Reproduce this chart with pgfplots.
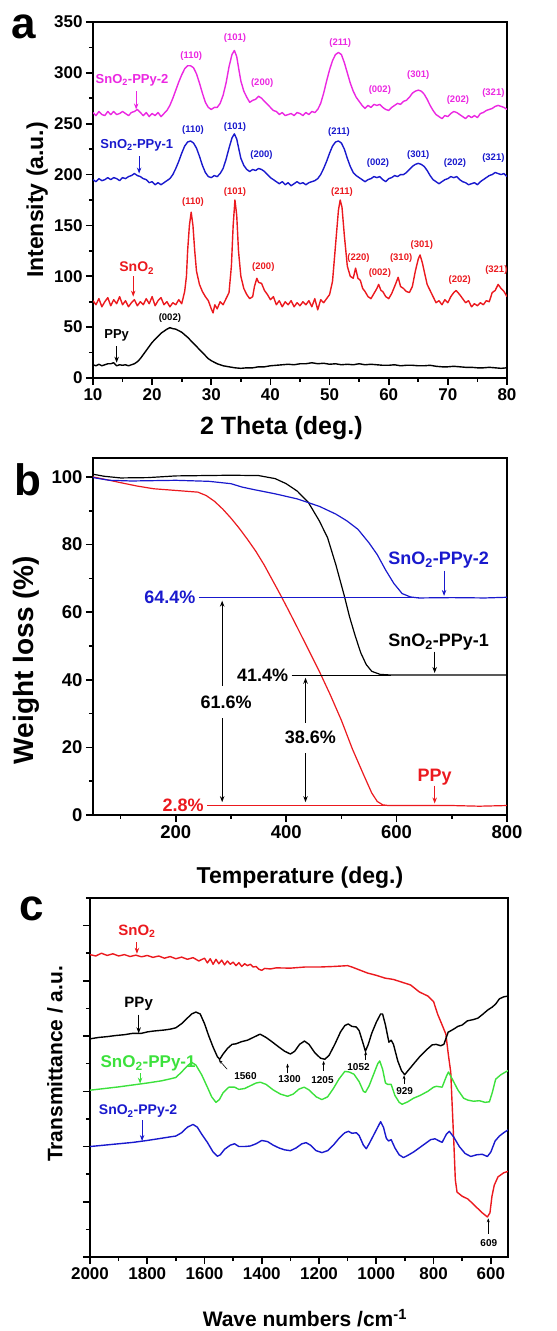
\documentclass[border=0pt]{standalone}
\usepackage{fontspec}
\setmainfont{Liberation Sans}
\usepackage{pgfplots}
\pgfplotsset{compat=1.18}
\usetikzlibrary{arrows.meta}
\definecolor{cmag}{RGB}{235,40,225}
\definecolor{cblue}{RGB}{25,25,205}
\definecolor{cred}{RGB}{235,25,30}
\definecolor{cgreen}{RGB}{60,225,60}
\newcommand{\fs}[1]{\bfseries\fontsize{#1}{#1}\selectfont}
\pgfplotsset{
  panel/.style={
    scale only axis, width=414pt, anchor=south west,
    tick align=outside, tick pos=left,
    major tick length=7pt, minor tick length=4pt,
    axis line style={line width=2pt},
    every tick/.style={black, line width=1.6pt},
    tick label style={font=\fs{17}},
    /pgf/number format/assume math mode=true,
    /pgf/number format/1000 sep={},
    label style={font=\fs{24}},
    clip mode=individual,
    every axis plot/.append style={line width=1.4pt, line join=round},
  },
}
\tikzset{arr/.style={-{Stealth[length=6pt,width=4.5pt]}, line width=0.9pt},
         sarr/.style={-{Stealth[length=4pt,width=3pt]}, line width=0.6pt}}
\begin{document}
\begin{tikzpicture}
\path[use as bounding box] (0pt,0pt) rectangle (557pt,1331pt);
% ---------------- panel a ----------------
\begin{axis}[panel, at={(93pt,953pt)}, height=356pt,
  xmin=10, xmax=80, ymin=0, ymax=350,
  xtick={10,20,...,80}, minor x tick num=1,
  ytick={0,50,...,350}, minor y tick num=1,
  xlabel={2 Theta (deg.)}, ylabel={Intensity (a.u.)},
  xlabel style={at={(axis description cs:0.455,-0.14)}, anchor=center, font=\fs{25}},
  ylabel style={at={(axis description cs:-0.135,0.5)}, anchor=center, font=\fs{23}},
]
\addplot[black] coordinates {(10,13)(10.5,12)(11,13.5)(11.5,12)(12,13)(12.5,14)(13,14)(13.5,15)(14,12)(14.5,13)(15,12.5)(15.5,13)(16,12)(16.5,13)(17,14)(17.5,16)(18,19)(18.5,23)(19,27)(19.5,31)(20,35)(20.5,38)(21,41)(21.5,44)(22,46)(22.5,48)(23,49.5)(23.5,48.5)(24,48)(24.5,46.5)(25,45)(25.5,42.5)(26,40)(26.5,37)(27,34)(27.5,31)(28,28)(28.5,25)(29,22)(29.5,19)(30,17)(31,14)(32,12)(33,11)(34,10)(35,9.5)(36,10)(37,10)(38,11)(39,11)(40,12)(41,12.5)(42,13)(43,13.5)(44,13)(45,14)(46,14)(47,15)(48,14)(49,14.5)(50,13.5)(51,14)(52,13)(53,13.5)(54,13)(55,14)(56,13)(57,13.5)(58,13)(59,12.5)(60,12.5)(61,13)(62,12)(63,12.5)(64,12.5)(65,12)(66,12)(67,12.5)(68,11.5)(69,11)(70,11)(71,11.5)(72,11)(73,10.5)(74,10.5)(75,10)(76,10)(77,10.5)(78,10)(79,9.5)(80,10)};
\addplot[cred] coordinates {(10,76)(10.5,72)(11,78)(11.5,70)(12,75)(12.5,79)(13,71)(13.5,77)(14,73)(14.5,80)(15,72)(15.5,76)(16,70)(16.5,74)(17,77)(17.5,71)(18,75)(18.5,72)(19,78)(19.5,73)(20,80)(20.5,71)(21,76)(21.5,79)(22,72)(22.5,75)(23,70)(23.5,74)(24,72)(24.5,77)(25,73)(25.5,85)(25.8,100)(26,125)(26.3,150)(26.6,163)(26.9,150)(27.2,125)(27.5,105)(28,92)(28.5,85)(29,80)(29.5,76)(30,68)(30.3,64)(30.6,72)(31,68)(31.5,75)(32,72)(32.5,78)(33,84)(33.4,110)(33.7,150)(34,175)(34.3,160)(34.6,125)(35,100)(35.5,88)(36,82)(36.5,78)(37,80)(37.3,90)(37.7,98)(38,94)(38.5,93)(39,86)(39.5,82)(40,77)(40.5,80)(41,72)(41.5,76)(42,70)(42.5,75)(43,72)(43.5,76)(44,70)(44.5,74)(45,71)(45.5,75)(46,72)(46.5,76)(47,70)(47.5,78)(48,67)(48.5,77)(49,74)(49.5,78)(50,82)(50.5,95)(51,130)(51.5,165)(51.8,175)(52.1,168)(52.5,140)(53,110)(53.5,100)(54,98)(54.4,108)(54.8,98)(55.2,96)(55.6,88)(56,85)(56.5,80)(57,78)(57.5,83)(58,88)(58.3,92)(58.7,86)(59,85)(59.5,80)(60,78)(60.5,83)(61,90)(61.6,99)(62,90)(62.5,88)(63,85)(63.5,84)(64,90)(64.5,105)(65,117)(65.3,121)(65.7,113)(66,105)(66.5,92)(67,86)(67.5,80)(68,74)(68.5,76)(69,72)(69.5,77)(70,74)(70.5,80)(71,84)(71.4,86)(72,82)(72.5,78)(73,74)(73.5,76)(74,70)(74.5,73)(75,71)(75.5,74)(76,72)(76.5,76)(77,75)(77.5,84)(78,86)(78.5,92)(79,88)(79.5,85)(80,80)};
\addplot[cblue] coordinates {(10,195)(10.5,193)(11,196)(11.5,194)(12,195)(12.5,197)(13,195)(13.5,197)(14,196)(14.5,194)(15,197)(15.5,196)(16,198)(16.5,199)(17,201)(17.5,199)(18,198)(18.5,196)(19,195)(19.5,192)(20,193)(20.5,190)(21,192)(21.5,190)(22,192)(22.5,194)(23,196)(23.5,200)(24,206)(24.5,213)(25,221)(25.5,228)(26,232)(26.5,233)(27,231)(27.5,226)(28,218)(28.5,209)(29,202)(29.5,198)(30,197)(30.5,199)(31,198)(31.5,201)(32,206)(32.5,215)(33,226)(33.5,236)(33.9,240)(34.3,235)(34.7,224)(35,216)(35.5,209)(36,205)(36.5,203)(37,205)(37.5,204)(38,206)(38.5,205)(39,203)(39.5,200)(40,197)(40.5,195)(41,193)(41.5,191)(42,193)(42.5,190)(43,192)(43.5,189)(44,191)(44.5,193)(45,191)(45.5,192)(46,190)(46.5,192)(47,193)(47.5,194)(48,196)(48.5,200)(49,206)(49.5,213)(50,221)(50.5,228)(51,232)(51.5,233)(52,231)(52.5,225)(53,216)(53.5,208)(54,202)(54.5,199)(55,197)(55.5,195)(56,193)(56.5,195)(57,196)(57.5,198)(58,197)(58.5,198)(59,195)(59.5,193)(60,196)(60.5,197)(61,199)(61.5,198)(62,200)(62.5,200)(63,202)(63.5,205)(64,208)(64.5,210)(65,211)(65.5,210)(66,208)(66.5,204)(67,199)(67.5,195)(68,193)(68.5,191)(69,193)(69.5,195)(70,196)(70.5,198)(71,197)(71.5,198)(72,195)(72.5,193)(73,192)(73.5,190)(74,191)(74.5,192)(75,190)(75.5,193)(76,195)(76.5,197)(77,199)(77.5,200)(78,202)(78.5,201)(79,200)(79.5,201)(80,198)};
\addplot[cmag] coordinates {(10,261)(10.5,258)(11,262)(11.5,259)(12,258)(12.5,262)(13,259)(13.5,262)(14,259)(14.5,260)(15,262)(15.5,260)(16,258)(16.5,261)(17,262)(17.5,264)(18,261)(18.5,258)(19,261)(19.5,257)(20,260)(20.5,258)(21,261)(21.5,257)(22,260)(22.5,263)(23,268)(23.5,275)(24,283)(24.5,291)(25,298)(25.5,304)(26,307)(26.5,307)(27,305)(27.5,299)(28,290)(28.5,280)(29,271)(29.5,266)(30,264)(30.5,266)(31,266)(31.5,270)(32,278)(32.5,290)(33,306)(33.5,318)(33.9,322)(34.3,316)(34.7,302)(35,292)(35.5,282)(36,276)(36.5,271)(37,273)(37.5,274)(38,277)(38.5,275)(39,272)(39.5,269)(40,266)(40.5,263)(41,262)(41.5,259)(42,261)(42.5,258)(43,259)(43.5,260)(44,258)(44.5,261)(45,260)(45.5,258)(46,261)(46.5,259)(47,262)(47.5,261)(48,264)(48.5,270)(49,280)(49.5,292)(50,303)(50.5,312)(51,318)(51.5,320)(52,318)(52.5,310)(53,300)(53.5,290)(54,282)(54.5,276)(55,272)(55.5,268)(56,265)(56.5,268)(57,266)(57.5,269)(58,268)(58.5,269)(59,266)(59.5,264)(60,263)(60.5,266)(61,268)(61.5,270)(62,269)(62.5,272)(63,273)(63.5,276)(64,280)(64.5,282)(65,283)(65.5,282)(66,279)(66.5,274)(67,268)(67.5,263)(68,259)(68.5,257)(69,255)(69.5,258)(70,257)(70.5,260)(71,262)(71.5,261)(72,259)(72.5,257)(73,255)(73.5,258)(74,256)(74.5,258)(75,256)(75.5,260)(76,261)(76.5,263)(77,264)(77.5,265)(78,267)(78.5,268)(79,267)(79.5,266)(80,264)};
% curve labels
\node[font=\fs{13}, text=cmag] at (axis cs:16.6,293) {SnO\textsubscript{2}-PPy-2};
\draw[arr, cmag] (axis cs:17.3,282) -- (axis cs:17.3,264);
\node[font=\fs{13}, text=cblue] at (axis cs:17.4,229) {SnO\textsubscript{2}-PPy-1};
\draw[arr, cblue] (axis cs:17.8,218) -- (axis cs:17.8,201);
\node[font=\fs{14}, text=cred] at (axis cs:17.4,108) {SnO\textsubscript{2}};
\draw[arr, cred] (axis cs:16.8,100) -- (axis cs:16.8,80);
\node[font=\fs{13}, text=black] at (axis cs:14,42) {PPy};
\draw[arr, black] (axis cs:14,31) -- (axis cs:14,15);
% peak labels
\begin{scope}[every node/.style={font=\fs{9.5}}]
\node[text=cmag] at (axis cs:26.6,317) {(110)};
\node[text=cmag] at (axis cs:34,334) {(101)};
\node[text=cmag] at (axis cs:38.6,290) {(200)};
\node[text=cmag] at (axis cs:51.8,329) {(211)};
\node[text=cmag] at (axis cs:58.5,283) {(002)};
\node[text=cmag] at (axis cs:65,298) {(301)};
\node[text=cmag] at (axis cs:71.7,273) {(202)};
\node[text=cmag] at (axis cs:77.7,280) {(321)};
\node[text=cblue] at (axis cs:26.9,244) {(110)};
\node[text=cblue] at (axis cs:34,247) {(101)};
\node[text=cblue] at (axis cs:38.5,219) {(200)};
\node[text=cblue] at (axis cs:51.6,242) {(211)};
\node[text=cblue] at (axis cs:58.2,211) {(002)};
\node[text=cblue] at (axis cs:65,219) {(301)};
\node[text=cblue] at (axis cs:71.2,211) {(202)};
\node[text=cblue] at (axis cs:77.7,216) {(321)};
\node[text=cred] at (axis cs:26.9,173) {(110)};
\node[text=cred] at (axis cs:34,183) {(101)};
\node[text=cred] at (axis cs:38.8,109) {(200)};
\node[text=cred] at (axis cs:52.1,183) {(211)};
\node[text=cred] at (axis cs:54.9,118) {(220)};
\node[text=cred] at (axis cs:58.5,103) {(002)};
\node[text=cred] at (axis cs:62.1,118) {(310)};
\node[text=cred] at (axis cs:65.6,131) {(301)};
\node[text=cred] at (axis cs:72,96) {(202)};
\node[text=cred] at (axis cs:78.2,106) {(321)};
\node[text=black] at (axis cs:23,59) {(002)};
\end{scope}
\end{axis}
\node[font=\fs{44}] at (24pt,1304pt) {a};
% ---------------- panel b ----------------
\begin{axis}[panel, at={(93pt,516pt)}, height=357pt,
  xmin=50, xmax=800, ymin=0, ymax=105.6,
  xtick={200,400,600,800}, minor xtick={100,300,500,700},
  ytick={0,20,...,100}, minor y tick num=1,
  tick label style={font=\fs{18.5}},
  xlabel={Temperature (deg.)}, ylabel={Weight loss (\%)},
  xlabel style={at={(axis description cs:0.5,-0.174)}, anchor=center, font=\fs{23}},
  ylabel style={at={(axis description cs:-0.16,0.434)}, anchor=center, font=\fs{28}},
  every axis plot/.append style={line width=1.2pt},
]
\addplot[cred] coordinates {(50,100)(80,99)(100,98.3)(130,97.3)(160,96.5)(200,96)(240,95.5)(255,94.5)(270,92.8)(285,90.5)(300,87.8)(315,84.8)(330,81.5)(345,78)(360,74)(375,69.5)(390,65)(405,60.3)(420,55.5)(440,49)(460,42.5)(480,35.5)(500,28)(520,19.5)(540,12)(555,6.5)(565,4)(575,3)(585,2.8)(700,2.8)(750,2.6)(800,2.8)};
\addplot[black] coordinates {(50,100.8)(70,100.2)(100,99.7)(150,99.8)(200,100.3)(300,100.5)(350,100.4)(380,99.5)(400,98)(420,95.8)(440,92.5)(460,87)(475,82)(490,74)(505,65)(515,58.5)(525,53)(535,48)(545,44.5)(555,42.5)(570,41.6)(590,41.4)(800,41.4)};
\addplot[cblue] coordinates {(50,99.8)(80,99)(120,98.8)(200,99)(260,98.7)(300,98)(320,97)(340,96.3)(380,95)(420,93.5)(460,91.3)(490,89)(510,87)(530,84.5)(550,80.5)(565,77)(580,72.5)(595,68.5)(610,65.5)(625,64.5)(640,64.2)(700,64.3)(760,64.2)(800,64.4)};
\addplot[cblue, line width=1pt] coordinates {(242,64.4)(640,64.4)};
\addplot[black, line width=1pt] coordinates {(410,41.4)(590,41.4)};
\addplot[cred, line width=1pt] coordinates {(257,2.8)(590,2.8)};
\node[font=\fs{18}, text=cblue, anchor=east] at (axis cs:242,64.4) {64.4\%};
\node[font=\fs{18}, text=black, anchor=east] at (axis cs:410,41.4) {41.4\%};
\node[font=\fs{18}, text=cred, anchor=east] at (axis cs:257,2.8) {2.8\%};
\node[font=\fs{18}] at (axis cs:291,33.4) {61.6\%};
\draw[arr, line width=1.1pt] (axis cs:284,38.3) -- (axis cs:284,63.4);
\draw[arr, line width=1.1pt] (axis cs:284,28.6) -- (axis cs:284,3.8);
\node[font=\fs{18}] at (axis cs:444,23) {38.6\%};
\draw[arr, line width=1.1pt] (axis cs:435,27.3) -- (axis cs:435,40.6);
\draw[arr, line width=1.1pt] (axis cs:435,18.3) -- (axis cs:435,3.8);
\node[font=\fs{18}, text=cblue] at (axis cs:676,75.4) {SnO\textsubscript{2}-PPy-2};
\draw[arr, cblue] (axis cs:686,72.3) -- (axis cs:686,64.8);
\node[font=\fs{18}, text=black] at (axis cs:676,51) {SnO\textsubscript{2}-PPy-1};
\draw[arr, black] (axis cs:669,48.3) -- (axis cs:669,42);
\node[font=\fs{18}, text=cred] at (axis cs:669,11.2) {PPy};
\draw[arr, cred] (axis cs:669,8.7) -- (axis cs:669,3.4);
\end{axis}
\node[font=\fs{44}] at (28pt,851pt) {b};
% ---------------- panel c ----------------
\begin{axis}[panel, at={(90pt,74pt)}, width=418pt, height=359pt,
  x dir=reverse, xmin=540, xmax=2000, ymin=0, ymax=13,
  xtick={600,800,...,2000}, minor xtick={700,900,...,1900},
  ytick={0,2,...,12}, minor ytick={1,3,...,13}, yticklabels={},
  xlabel={Wave numbers /cm\textsuperscript{-1}}, ylabel={Transmittance / a.u.},
  xlabel style={at={(axis description cs:0.514,-0.17)}, anchor=center, font=\fs{21}},
  ylabel style={at={(axis description cs:-0.084,0.538)}, anchor=center, font=\fs{21}},
]
\addplot[cred] coordinates {(2000,10.95)(1980,10.9)(1960,11.0)(1940,10.92)(1920,10.98)(1900,10.9)(1880,10.95)(1860,10.88)(1840,10.93)(1820,10.87)(1800,10.92)(1780,10.85)(1760,10.9)(1740,10.82)(1720,10.88)(1700,10.8)(1680,10.86)(1660,10.78)(1640,10.84)(1620,10.72)(1600,10.82)(1590,10.65)(1580,10.8)(1570,10.6)(1560,10.78)(1550,10.62)(1540,10.75)(1530,10.58)(1520,10.72)(1510,10.6)(1500,10.68)(1490,10.55)(1480,10.66)(1470,10.52)(1460,10.62)(1450,10.55)(1440,10.6)(1430,10.5)(1420,10.52)(1410,10.42)(1400,10.38)(1390,10.45)(1370,10.43)(1350,10.47)(1300,10.46)(1250,10.5)(1200,10.5)(1150,10.52)(1100,10.55)(1085,10.5)(1060,10.4)(1030,10.28)(1000,10.2)(970,10.1)(940,10.05)(910,9.95)(880,9.85)(850,9.6)(820,9.45)(800,9.25)(786,8.8)(770,8.4)(757,8.07)(748,7.3)(740,6.7)(735,5.5)(729,4.1)(724,2.8)(718,2.35)(700,2.2)(680,2.1)(655,1.85)(630,1.6)(612,1.45)(603,1.6)(596,2.2)(588,2.6)(575,2.9)(555,3.05)(540,3.1)};
\addplot[black] coordinates {(2000,7.9)(1970,7.95)(1940,7.98)(1910,8.02)(1880,8.05)(1850,8.1)(1820,8.1)(1800,8.15)(1780,8.18)(1760,8.2)(1740,8.22)(1720,8.25)(1700,8.3)(1680,8.45)(1660,8.65)(1645,8.8)(1630,8.87)(1615,8.8)(1600,8.45)(1585,8.0)(1570,7.6)(1555,7.25)(1547,7.16)(1535,7.35)(1520,7.55)(1504,7.7)(1490,7.72)(1470,7.8)(1450,7.85)(1430,7.95)(1406,8.07)(1385,7.95)(1365,7.8)(1340,7.6)(1320,7.45)(1300,7.35)(1285,7.45)(1268,7.7)(1251,7.82)(1235,7.7)(1215,7.4)(1195,7.2)(1180,7.16)(1165,7.3)(1145,7.7)(1125,8.15)(1110,8.38)(1098,8.44)(1085,8.35)(1070,8.33)(1060,8.2)(1048,7.8)(1038,7.45)(1028,7.7)(1016,8.1)(1000,8.5)(985,8.8)(978,8.8)(968,8.4)(956,7.78)(948,7.85)(940,7.7)(925,7.1)(912,6.75)(901,6.6)(885,6.8)(865,7.05)(847,7.27)(825,7.5)(805,7.68)(791,7.7)(775,7.65)(764,7.7)(749,8.14)(730,8.25)(715,8.35)(700,8.4)(682,8.55)(660,8.6)(645,8.65)(627,8.8)(610,8.95)(595,9.05)(583,9.16)(570,9.35)(555,9.42)(540,9.45)};
\addplot[cgreen] coordinates {(2000,6.04)(1950,6.1)(1900,6.16)(1850,6.23)(1800,6.3)(1750,6.38)(1720,6.45)(1700,6.5)(1680,6.7)(1660,6.92)(1645,7.05)(1630,6.95)(1610,6.6)(1590,6.15)(1575,5.8)(1560,5.6)(1548,5.7)(1535,5.95)(1515,6.15)(1495,6.15)(1480,6.07)(1460,6.1)(1440,6.2)(1420,6.3)(1405,6.33)(1385,6.25)(1360,6.05)(1335,5.9)(1310,5.82)(1290,5.9)(1270,6.08)(1252,6.15)(1235,6.05)(1210,5.8)(1190,5.7)(1170,5.8)(1150,6.1)(1130,6.45)(1110,6.72)(1095,6.7)(1078,6.62)(1060,6.35)(1045,6.0)(1038,5.96)(1025,6.2)(1010,6.6)(995,7.0)(988,7.1)(978,6.8)(968,6.3)(960,6.25)(948,6.25)(935,5.85)(920,5.6)(910,5.53)(890,5.62)(870,5.75)(847,5.85)(820,6.0)(800,6.15)(790,6.18)(770,6.15)(755,6.55)(748,6.7)(735,6.45)(715,6.05)(695,5.75)(680,5.68)(660,5.64)(640,5.66)(620,5.6)(605,5.62)(595,5.95)(583,6.44)(565,6.6)(540,6.75)};
\addplot[cblue] coordinates {(2000,4.0)(1950,4.05)(1900,4.1)(1850,4.15)(1800,4.22)(1750,4.3)(1720,4.35)(1700,4.38)(1680,4.5)(1660,4.7)(1640,4.8)(1625,4.7)(1610,4.45)(1590,4.15)(1570,3.8)(1555,3.65)(1545,3.7)(1530,3.9)(1510,4.05)(1495,4.1)(1480,4.0)(1460,4.0)(1440,4.02)(1420,4.1)(1400,4.22)(1380,4.18)(1360,4.05)(1340,3.95)(1320,3.88)(1300,3.85)(1280,3.95)(1260,4.1)(1245,4.14)(1230,4.05)(1210,3.85)(1190,3.78)(1170,3.85)(1150,4.05)(1130,4.3)(1110,4.5)(1097,4.55)(1085,4.48)(1070,4.5)(1060,4.4)(1045,4.05)(1035,3.92)(1025,4.1)(1010,4.4)(995,4.7)(985,4.9)(975,4.7)(965,4.3)(957,4.2)(948,4.25)(935,3.95)(920,3.7)(905,3.6)(890,3.68)(870,3.8)(850,3.95)(830,4.1)(810,4.25)(795,4.28)(780,4.2)(770,4.15)(755,4.45)(745,4.55)(730,4.35)(710,4.0)(690,3.75)(670,3.64)(650,3.7)(630,3.72)(612,3.64)(600,3.8)(585,4.2)(570,4.38)(555,4.5)(540,4.6)};
\node[font=\fs{15}, text=cred] at (axis cs:1836,11.8) {SnO\textsubscript{2}};
\draw[arr, cred] (axis cs:1836,11.4) -- (axis cs:1836,10.98);
\node[font=\fs{15}] at (axis cs:1830,9.15) {PPy};
\draw[arr] (axis cs:1830,8.78) -- (axis cs:1830,8.1);
\node[font=\fs{17}, text=cgreen] at (axis cs:1797,7.0) {SnO\textsubscript{2}-PPy-1};
\draw[arr, cgreen] (axis cs:1825,6.65) -- (axis cs:1825,6.28);
\node[font=\fs{14}, text=cblue] at (axis cs:1832,5.27) {SnO\textsubscript{2}-PPy-2};
\draw[arr, cblue] (axis cs:1818,4.95) -- (axis cs:1818,4.2);
\begin{scope}[every node/.style={font=\fs{10}}]
\node at (axis cs:1457,6.55) {1560};
\draw[sarr] (axis cs:1521,6.8) -- (axis cs:1550,7.14);
\node at (axis cs:1303,6.45) {1300};
\draw[sarr] (axis cs:1310,6.65) -- (axis cs:1310,7.0);
\node at (axis cs:1188,6.4) {1205};
\draw[sarr] (axis cs:1184,6.75) -- (axis cs:1184,7.1);
\node at (axis cs:1062,6.87) {1052};
\draw[sarr] (axis cs:1037,7.15) -- (axis cs:1037,7.45);
\node at (axis cs:901,6.02) {929};
\draw[sarr] (axis cs:903,6.28) -- (axis cs:903,6.58);
\node at (axis cs:607,0.5) {609};
\draw[sarr] (axis cs:609,0.85) -- (axis cs:609,1.4);
\end{scope}
\end{axis}
\node[font=\fs{44}] at (32pt,422pt) {c};
\end{tikzpicture}
\end{document}
